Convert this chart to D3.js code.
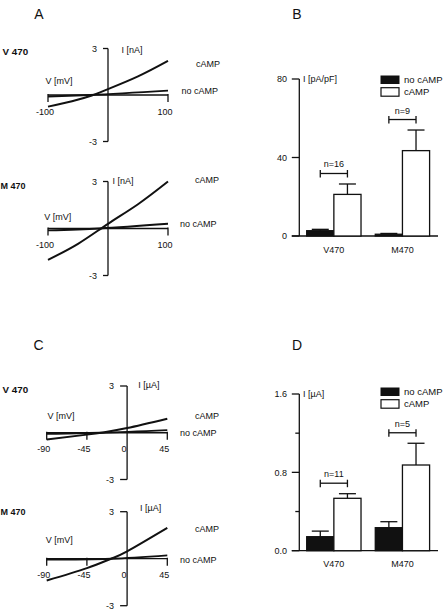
<!DOCTYPE html>
<html><head><meta charset="utf-8">
<script src="https://cdn.jsdelivr.net/npm/d3@7"></script>
<style>
html,body{margin:0;padding:0;background:#fff;}
svg{display:block;font-family:"Liberation Sans",Arial,Helvetica,sans-serif;}
</style></head>
<body>
<svg id="chart" width="444" height="615"></svg>
<script>
// ---------- DATA ----------
// Panel A (current in nA vs voltage in mV)
const A_V470_cAMP_V = [-100, -60, -27, 0, 50, 100];
const A_V470_cAMP_I = [-0.75, -0.4, -0.03, 0.38, 1.2, 2.2];
const A_V470_no_V = [-100, -30, 100];
const A_V470_no_I = [-0.1, 0, 0.28];
const A_M470_cAMP_V = [-100, -50, 0, 50, 100];
const A_M470_cAMP_I = [-2.0, -0.98, 0.3, 1.55, 3.0];
const A_M470_no_V = [-100, -15, 100];
const A_M470_no_I = [-0.12, 0, 0.3];
const A_xTicks = [-100, 100];
const A_yTicks = [-3, 3];
// Panel C (current in µA vs voltage in mV)
const C_V470_cAMP_V = [-90, -45, -27, 0, 45];
const C_V470_cAMP_I = [-0.43, -0.12, 0.02, 0.3, 0.9];
const C_V470_no_V = [-90, -30, 45];
const C_V470_no_I = [-0.07, 0, 0.17];
const C_M470_cAMP_V = [-90, -45, -18, 0, 45];
const C_M470_cAMP_I = [-1.39, -0.6, 0, 0.47, 1.97];
const C_M470_no_V = [-90, -18, 45];
const C_M470_no_I = [-0.06, 0, 0.21];
const C_xTicks = [-90, -45, 0, 45];
const C_yTicks = [-3, 3];
// Panels B and D (bars)
const categories = ["V470", "M470"];
const conditions = ["no cAMP", "cAMP"];
const B_noCAMP = [2.7, 0.9];
const B_noCAMP_err = [0.7, 0.4];
const B_cAMP = [21.2, 43.5];
const B_cAMP_err = [5.3, 10.5];
const B_n = ["n=16", "n=9"];
const B_yTicks = [0, 40, 80];
const D_noCAMP = [0.143, 0.235];
const D_noCAMP_err = [0.057, 0.061];
const D_cAMP = [0.535, 0.875];
const D_cAMP_err = [0.047, 0.222];
const D_n = ["n=11", "n=5"];
const D_yTicks = [0.0, 0.8, 1.6];
const D_yMinor = [0.4, 1.2];

// ---------- DRAW ----------
const svg = d3.select("#chart");
const FS = 9;

function txt(x, y, s, opt = {}) {
  return svg.append("text").attr("x", x).attr("y", y).text(s)
    .attr("font-size", opt.size || FS)
    .attr("font-weight", opt.bold ? "bold" : "normal")
    .attr("text-anchor", opt.anchor || "start")
    .attr("fill", "#111");
}
function ln(x1, y1, x2, y2, w = 1.3) {
  svg.append("line").attr("x1", x1).attr("y1", y1).attr("x2", x2).attr("y2", y2)
    .attr("stroke", "#111").attr("stroke-width", w);
}

// panel letters
txt(39, 18.5, "A", {size: 14, anchor: "middle"});
txt(297, 18.5, "B", {size: 14, anchor: "middle"});
txt(38.5, 349.5, "C", {size: 14, anchor: "middle"});
txt(297, 349.5, "D", {size: 14, anchor: "middle"});

function drawIV(c) {
  const x = c.x, y = c.y;
  const x0 = x(0), y0 = y(0);
  const yTop = y(c.yTicks[1]), yBot = y(c.yTicks[0]);
  // y axis
  ln(x0, yTop, x0, yBot);
  c.yTicks.forEach(t => {
    ln(x0 - c.yTickLen, y(t), x0, y(t));
    txt(x0 - c.yTickLen - 6, y(t) + 3.3, String(t), {anchor: "end"});
  });
  // x axis
  const [d0, d1] = x.domain();
  ln(x(d0), y0, x(d1), y0);
  c.xTicks.forEach(t => {
    if (t !== 0) ln(x(t), y0 - 1, x(t), y0 + 7);
    txt(x(t) - 3, y0 + 19.5, String(t), {anchor: "middle"});
  });
  // curves
  const lineNo = d3.line().x(d => x(d[0])).y(d => y(d[1])).curve(d3.curveMonotoneX);
  const lineC = d3.line().x(d => x(d[0])).y(d => y(d[1])).curve(d3.curveNatural);
  svg.append("path").datum(d3.zip(c.noV, c.noI)).attr("d", lineNo)
    .attr("fill", "none").attr("stroke", "#111").attr("stroke-width", 1.9);
  svg.append("path").datum(d3.zip(c.cV, c.cI)).attr("d", lineC)
    .attr("fill", "none").attr("stroke", "#111").attr("stroke-width", 2);
  // labels
  txt(c.name[0], c.name[1], c.nameText, {bold: true, size: c.nameSize || 9.8});
  txt(c.iLab[0], c.iLab[1], c.iText);
  txt(c.vLab[0], c.vLab[1], "V [mV]");
  txt(c.cLab[0], c.cLab[1], "cAMP");
  txt(c.nLab[0], c.nLab[1], "no cAMP");
}

const xA = d3.scaleLinear().domain([-100, 100]).range([48, 168]);
drawIV({x: xA, y: d3.scaleLinear().domain([-3, 3]).range([141.5, 48.5]),
  xTicks: A_xTicks, yTicks: A_yTicks, yTickLen: 5,
  cV: A_V470_cAMP_V, cI: A_V470_cAMP_I, noV: A_V470_no_V, noI: A_V470_no_I,
  name: [2.5, 55.3], nameText: "V 470", iLab: [121.5, 52.8], iText: "I [nA]",
  vLab: [45.5, 84], cLab: [196, 66.7], nLab: [181.5, 94.3]});
drawIV({x: xA, y: d3.scaleLinear().domain([-3, 3]).range([275.5, 181.5]),
  xTicks: A_xTicks, yTicks: A_yTicks, yTickLen: 5,
  cV: A_M470_cAMP_V, cI: A_M470_cAMP_I, noV: A_M470_no_V, noI: A_M470_no_I,
  name: [0.5, 189.3], nameText: "M 470", nameSize: 9, iLab: [112.5, 184], iText: "I [nA]",
  vLab: [44.3, 219.5], cLab: [195, 183.3], nLab: [180, 227.3]});

const xC = d3.scaleLinear().domain([-90, 45]).range([46.7, 167.3]);
drawIV({x: xC, y: d3.scaleLinear().domain([-3, 3]).range([479.5, 386]),
  xTicks: C_xTicks, yTicks: C_yTicks, yTickLen: 7,
  cV: C_V470_cAMP_V, cI: C_V470_cAMP_I, noV: C_V470_no_V, noI: C_V470_no_I,
  name: [2.5, 393.3], nameText: "V 470", iLab: [138.3, 387.5], iText: "I [\u00B5A]",
  vLab: [47.5, 419], cLab: [195, 419.3], nLab: [180, 435.7]});
drawIV({x: xC, y: d3.scaleLinear().domain([-3, 3]).range([605.7, 511.7]),
  xTicks: C_xTicks, yTicks: C_yTicks, yTickLen: 7,
  cV: C_M470_cAMP_V, cI: C_M470_cAMP_I, noV: C_M470_no_V, noI: C_M470_no_I,
  name: [0.5, 515.3], nameText: "M 470", nameSize: 9, iLab: [140, 510.5], iText: "I [\u00B5A]",
  vLab: [45.7, 543], cLab: [195, 531.7], nLab: [180, 562.7]});

// ---------- BAR PANELS ----------
const xBand = d3.scaleBand().domain(categories).range([306.7, 429.6]).paddingInner(0.208).paddingOuter(0);
const xSub = d3.scaleBand().domain(conditions).range([0, xBand.bandwidth()]);

function drawBars(c) {
  const y = c.y;
  const ax = 299.3;
  const y0 = y(0);
  ln(ax, y(c.yTicks[c.yTicks.length - 1]), ax, y0);
  ln(ax - 7.5, y0, 438, y0);
  c.yTicks.forEach(t => {
    ln(ax - 7.5, y(t), ax, y(t));
    txt(287, y(t) + 3.3, c.fmt(t), {anchor: "end"});
  });
  (c.minor || []).forEach(t => ln(ax - 4, y(t), ax, y(t)));
  txt(303, y(c.yTicks[c.yTicks.length - 1]) + 2.5, c.yLabel);

  categories.forEach((cat, i) => {
    const gx = xBand(cat);
    const vals = [c.no[i], c.cm[i]], errs = [c.noErr[i], c.cmErr[i]];
    conditions.forEach((cond, j) => {
      const bx = gx + xSub(cond), bw = xSub.bandwidth();
      const cx = bx + bw / 2;
      // error bar
      ln(cx, y(vals[j]), cx, y(vals[j] + errs[j]));
      ln(cx - 8.5, y(vals[j] + errs[j]), cx + 8.5, y(vals[j] + errs[j]));
      svg.append("rect").attr("x", bx).attr("y", y(vals[j]))
        .attr("width", bw).attr("height", y0 - y(vals[j]))
        .attr("fill", j === 0 ? "#111" : "#fff")
        .attr("stroke", "#111").attr("stroke-width", 1.3);
    });
    // n bracket
    const c1 = gx + xSub("no cAMP") + xSub.bandwidth() / 2;
    const c2 = gx + xSub("cAMP") + xSub.bandwidth() / 2;
    const by = y(c.cm[i] + c.cmErr[i]) - 10.5;
    ln(c1, by, c2, by);
    ln(c1, by - 3.5, c1, by + 4);
    ln(c2, by - 3.5, c2, by + 4);
    txt((c1 + c2) / 2, by - 6, c.n[i], {anchor: "middle"});
    // category label
    txt(gx + xBand.bandwidth() / 2, y0 + 16.5, cat, {anchor: "middle"});
  });
  // legend
  const ly = c.legY;
  svg.append("rect").attr("x", 381).attr("y", ly).attr("width", 18).attr("height", 7.5)
    .attr("fill", "#111").attr("stroke", "#111").attr("stroke-width", 1);
  svg.append("rect").attr("x", 381).attr("y", ly + 11.7).attr("width", 18).attr("height", 8.5)
    .attr("fill", "#fff").attr("stroke", "#111").attr("stroke-width", 1.2);
  txt(404, ly + 6.7, "no cAMP", {size: 9.5});
  txt(404, ly + 18.5, "cAMP", {size: 9.5});
}

drawBars({y: d3.scaleLinear().domain([0, 80]).range([236, 79]),
  yTicks: B_yTicks, fmt: d => String(d), yLabel: "I [pA/pF]",
  no: B_noCAMP, noErr: B_noCAMP_err, cm: B_cAMP, cmErr: B_cAMP_err, n: B_n, legY: 76});
drawBars({y: d3.scaleLinear().domain([0, 1.6]).range([550.7, 394]),
  yTicks: D_yTicks, minor: D_yMinor, fmt: d3.format(".1f"), yLabel: "I [\u00B5A]",
  no: D_noCAMP, noErr: D_noCAMP_err, cm: D_cAMP, cmErr: D_cAMP_err, n: D_n, legY: 388});
</script>
</body></html>
